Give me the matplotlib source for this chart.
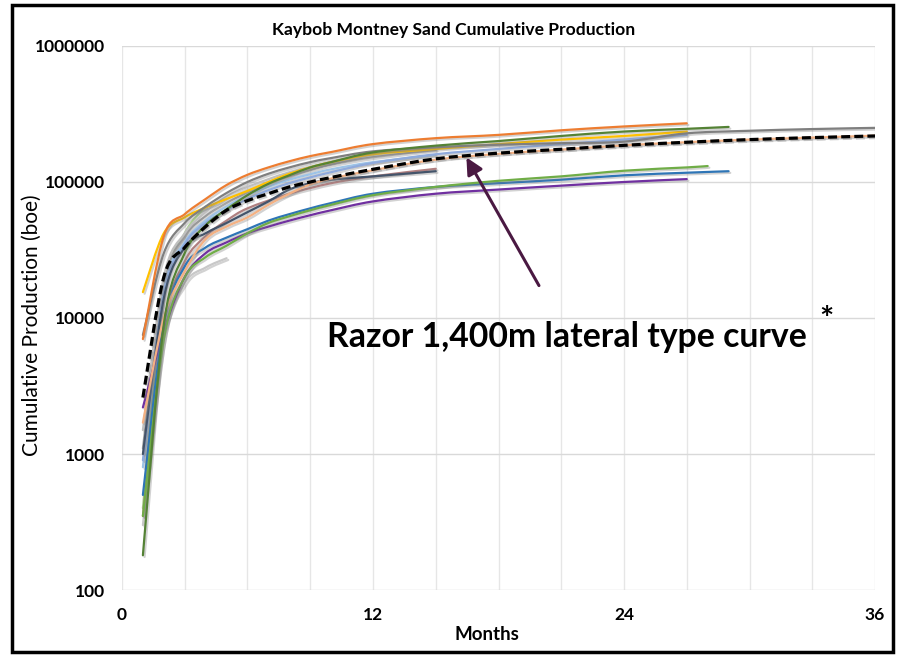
import matplotlib
matplotlib.use("Agg")
import numpy as np
import matplotlib.pyplot as plt
import matplotlib.patheffects as pe
from matplotlib.patches import Rectangle, PathPatch
from matplotlib.path import Path
from matplotlib.ticker import FixedLocator

plt.rcParams['font.family'] = ['Lato', 'DejaVu Sans']

TITLE = "Kaybob Montney Sand Cumulative Production"
XLABEL = "Months"
YLABEL = "Cumulative Production (boe)"
ANNOT = "Razor 1,400m lateral type curve"
XTICKS = [0, 12, 24, 36]
XTICKLABELS = ['0', '12', '24', '36']
YTICKS = [100, 1000, 10000, 100000, 1000000]
YTICKLABELS = ['100', '1000', '10000', '100000', '1000000']

# ---- well data (months, cumulative boe) ----
orange_m = [1, 2, 3, 4, 5, 6, 7, 8, 9, 10, 12, 15, 18, 21, 24, 27]
orange_v = [7000, 40000, 58000, 75000, 95000, 113000, 128000, 142000, 155000, 166000, 190000, 210000, 222000, 240000, 256000, 270000]

dgray_m = [1, 2, 3, 4, 5, 6, 7, 8, 9, 10, 12, 15, 18, 21, 24, 27, 30, 33, 36]
dgray_v = [7500, 30000, 50000, 66000, 83000, 100000, 115000, 128000, 140000, 150000, 168000, 180000, 188000, 193000, 198000, 228000, 238000, 245000, 250000]

dgreen_m = [1, 2, 3, 4, 5, 6, 7, 8, 9, 10, 12, 15, 18, 21, 24, 27, 29]
dgreen_v = [180, 9000, 30000, 48000, 63000, 80000, 97000, 112000, 128000, 140000, 165000, 185000, 200000, 218000, 235000, 246000, 254000]

yellow_m = [1, 2, 3, 4, 5, 6, 7, 8, 9, 10, 12, 15, 18, 21, 24, 27]
yellow_v = [15500, 42000, 55000, 65000, 75000, 86000, 100000, 115000, 128000, 140000, 160000, 175000, 190000, 205000, 218000, 235000]

lgray_m = [1, 2, 3, 4, 5, 6, 8, 10, 12, 15]
lgray_v = [1500, 20000, 42000, 60000, 78000, 92000, 118000, 140000, 160000, 178000]

lblue_m = [1, 2, 3, 4, 5, 6, 7, 8, 9, 10, 12, 15, 18, 21, 24, 27]
lblue_v = [900, 15000, 35000, 50000, 62000, 75000, 87000, 98000, 108000, 118000, 138000, 160000, 175000, 190000, 205000, 222000]

sky_m = [1, 2, 3, 4, 5, 6, 7, 8, 9, 10, 12, 15]
sky_v = [800, 16000, 36000, 52000, 66000, 80000, 92000, 104000, 114000, 124000, 140000, 158000]

gray_m = [1, 2, 3, 4, 5, 6, 7, 8, 9, 10, 12, 15]
gray_v = [1100, 18000, 40000, 56000, 70000, 84000, 98000, 110000, 122000, 134000, 152000, 172000]

navy_m = [1, 2, 3, 4, 5, 6, 7, 8, 9, 10, 12, 15]
navy_v = [1000, 14000, 33000, 42000, 50000, 60000, 72000, 88000, 98000, 104000, 110000, 120000]

mauve_m = [1, 2, 3, 4, 5, 6, 8, 10, 12, 15]
mauve_v = [350, 9000, 26000, 40000, 52000, 64000, 82000, 98000, 110000, 125000]

salmon_m = [1, 2, 3, 4, 5, 6, 7, 8, 9, 10, 12, 15, 18, 21, 24, 27, 30, 33, 36]
salmon_v = [1700, 10000, 22000, 38000, 47000, 55000, 68000, 82000, 96000, 106000, 122000, 146000, 161000, 173000, 186000, 196000, 205000, 212000, 219000]

green_m = [1, 2, 3, 4, 5, 6, 7, 8, 9, 10, 12, 15, 18, 21, 24, 27, 28]
green_v = [350, 7000, 20000, 28000, 34000, 42000, 50000, 56000, 62000, 68000, 80000, 92000, 102000, 110000, 121000, 128000, 131000]

steel_m = [1, 2, 3, 4, 5, 6, 7, 8, 9, 10, 12, 15, 18, 21, 24, 27, 29]
steel_v = [500, 9000, 24000, 33000, 39000, 45000, 52000, 58000, 64000, 70000, 82000, 92000, 98000, 104000, 112000, 117000, 120000]

purple_m = [1, 2, 3, 4, 5, 6, 7, 8, 9, 10, 12, 15, 18, 21, 24, 27]
purple_v = [2200, 8000, 20000, 30000, 36000, 42000, 47000, 52000, 57000, 62000, 72000, 82000, 88000, 94000, 100000, 105000]

sgray_m = [1, 2, 3, 4, 5]
sgray_v = [300, 7000, 18000, 23500, 27500]

lgreen_m = [1, 2, 3, 4]
lgreen_v = [400, 16000, 42000, 66000]

type_m = [1, 2, 3, 4, 5, 6, 7, 8, 9, 10, 12, 15, 18, 21, 24, 27, 30, 33, 36]
type_v = [2600, 20000, 33000, 47000, 62000, 73000, 82000, 92000, 100000, 108000, 124000, 148000, 163000, 174000, 186000, 196000, 205000, 212000, 218000]

wells = [
    (sgray_m, sgray_v, "#C8C8C8"),
    (lgreen_m, lgreen_v, "#A9D18E"),
    (mauve_m, mauve_v, "#B08080"),
    (gray_m, gray_v, "#A5A5A5"),
    (sky_m, sky_v, "#9DC3E6"),
    (lgray_m, lgray_v, "#BFBFBF"),
    (lblue_m, lblue_v, "#8FAADC"),
    (navy_m, navy_v, "#44546A"),
    (purple_m, purple_v, "#7030A0"),
    (steel_m, steel_v, "#2E75B6"),
    (green_m, green_v, "#70AD47"),
    (salmon_m, salmon_v, "#F4B183"),
    (yellow_m, yellow_v, "#FFC000"),
    (dgray_m, dgray_v, "#7F7F7F"),
    (dgreen_m, dgreen_v, "#548235"),
    (orange_m, orange_v, "#ED7D31"),
]


def smooth_path(m, v):
    """Excel-style smoothed line through the given points (Catmull-Rom as cubic Beziers in log space)."""
    x = np.asarray(m, float)
    y = np.log10(np.asarray(v, float))
    n = len(x)
    verts = [(x[0], y[0])]
    codes = [Path.MOVETO]
    for i in range(n - 1):
        p0 = (x[max(i - 1, 0)], y[max(i - 1, 0)])
        p1 = (x[i], y[i])
        p2 = (x[i + 1], y[i + 1])
        p3 = (x[min(i + 2, n - 1)], y[min(i + 2, n - 1)])
        c1 = (p1[0] + (p2[0] - p0[0]) / 6, p1[1] + (p2[1] - p0[1]) / 6)
        c2 = (p2[0] - (p3[0] - p1[0]) / 6, p2[1] - (p3[1] - p1[1]) / 6)
        verts += [c1, c2, p2]
        codes += [Path.CURVE4] * 3
    verts = [(a, 10 ** b) for a, b in verts]
    return Path(verts, codes)


fig = plt.figure(figsize=(8.97, 6.56), dpi=100)
ax = fig.add_axes([0.136, 0.1006, 0.8395, 0.8293])
ax.set_yscale('log')
ax.set_ylim(100, 1000000)
ax.set_xlim(0, 36)

shadow = [pe.SimpleLineShadow(offset=(1.2, -1.2), shadow_color='#808080', alpha=0.35), pe.Normal()]
for m, v, c in wells:
    ax.add_patch(PathPatch(smooth_path(m, v), fill=False, edgecolor=c, lw=1.6,
                           capstyle='round', path_effects=shadow, zorder=3))

ax.add_patch(PathPatch(smooth_path(type_m, type_v), fill=False, edgecolor='black', lw=2.3,
                       linestyle=(0, (2.8, 1.3)), path_effects=shadow, zorder=5))

ax.xaxis.set_major_locator(FixedLocator(XTICKS))
ax.xaxis.set_minor_locator(FixedLocator(list(range(3, 36, 3))))
ax.yaxis.set_major_locator(FixedLocator(YTICKS))
ax.yaxis.set_minor_locator(FixedLocator([]))
ax.set_xticklabels(XTICKLABELS)
ax.set_yticklabels(YTICKLABELS)
ax.grid(True, which='major', axis='y', color='#D9D9D9', lw=1.0)
ax.grid(True, which='both', axis='x', color='#E6E6E6', lw=1.0)
ax.set_axisbelow(True)
for s in ax.spines.values():
    s.set_visible(False)
ax.tick_params(axis='both', which='both', length=0)
ax.tick_params(axis='x', pad=12)
ax.tick_params(axis='y', pad=12)
for lab in ax.get_xticklabels() + ax.get_yticklabels():
    lab.set_fontsize(12.5)
    lab.set_fontweight('bold')

fig.text(487 / 897, 1 - 635 / 656, XLABEL, ha='center', va='center', fontsize=13.5, fontweight='bold')
fig.text(32 / 897, 1 - 325 / 656, YLABEL, rotation=90, ha='center', va='center',
         fontsize=15, fontweight='normal')

fig.text(454 / 897, 1 - 30 / 656, TITLE, ha='center', va='center', fontsize=12.6, fontweight='bold')

ax.annotate('', xy=(16.4, 158000), xytext=(20.0, 10 ** (6 - (288 - 46) / 136)),
            arrowprops=dict(arrowstyle='-|>,head_length=1.0,head_width=0.5', color='#4A1942', lw=2.2),
            zorder=6)
fig.text(567 / 897, 1 - 337 / 656, ANNOT, ha='center', va='center',
         fontsize=24.3, fontweight='bold', color='black', zorder=7)
fig.text(826 / 897, 1 - 320 / 656, '*', ha='center', va='center',
         fontsize=24, fontweight='bold', color='black', zorder=7)

fig.patches.append(Rectangle((12 / 897, 4 / 656), (893 - 12) / 897, (651 - 4) / 656,
                             transform=fig.transFigure, fill=False, edgecolor='black', lw=2.5))

fig.savefig('out.png', dpi=100)
